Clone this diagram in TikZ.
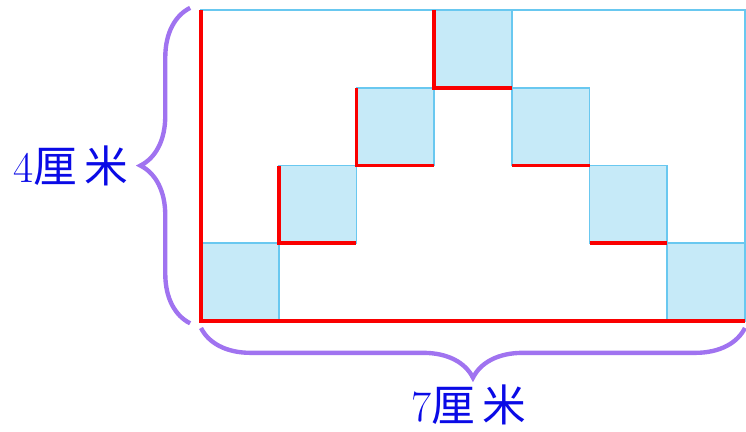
\documentclass[tikz,border=0pt]{standalone}
\usepackage{fontspec}
\newfontfamily\cjk{Noto Sans CJK SC}
\usetikzlibrary{decorations.pathreplacing}
\definecolor{cellblue}{RGB}{198,234,248}
\definecolor{edgeblue}{RGB}{105,200,240}
\definecolor{redline}{RGB}{250,0,0}
\definecolor{bracepurple}{RGB}{160,115,240}
\definecolor{textblue}{RGB}{10,10,230}
\tikzset{cell/.style={fill=cellblue,draw=edgeblue,line width=0.6pt},
  redge/.style={draw=redline,line width=1.4pt},
  sizebrace/.style={draw=bracepurple,line width=1.6pt,decorate,decoration={brace,amplitude=0.64cm}},
  lab/.style={text=textblue,font=\fontsize{16}{19}\selectfont}}
\begin{document}
\begin{tikzpicture}
\useasboundingbox (-2.587,-1.416) rectangle (7.014,4.131);
%\draw[help lines] (0,0) grid (7,4);
\foreach \x/\y in {0/0,1/1,2/2,3/3,4/2,5/1,6/0}
  \draw[cell] (\x,\y) rectangle ++(1,1);
\draw[edgeblue,line width=0.6pt] (0,0) rectangle (7,4);
\draw[redge] (0,4)--(0,0)--(7,0);
\draw[redge] (1,2)--(1,1)--(2,1);
\draw[redge] (2,3)--(2,2)--(3,2);
\draw[redge] (3,4)--(3,3)--(4,3);
\draw[redge] (4,2)--(5,2);
\draw[redge] (5,1)--(6,1);
\draw[sizebrace] (-0.14,-0.03)--(-0.14,4.03);
\draw[sizebrace] (7,-0.09)--(0,-0.09);
\node[lab] (height) at (-1.67,2.0) {4\cjk 厘\,米};
\node[lab] (width) at (3.45,-1.08) {7\cjk 厘\,米};
\end{tikzpicture}
\end{document}
